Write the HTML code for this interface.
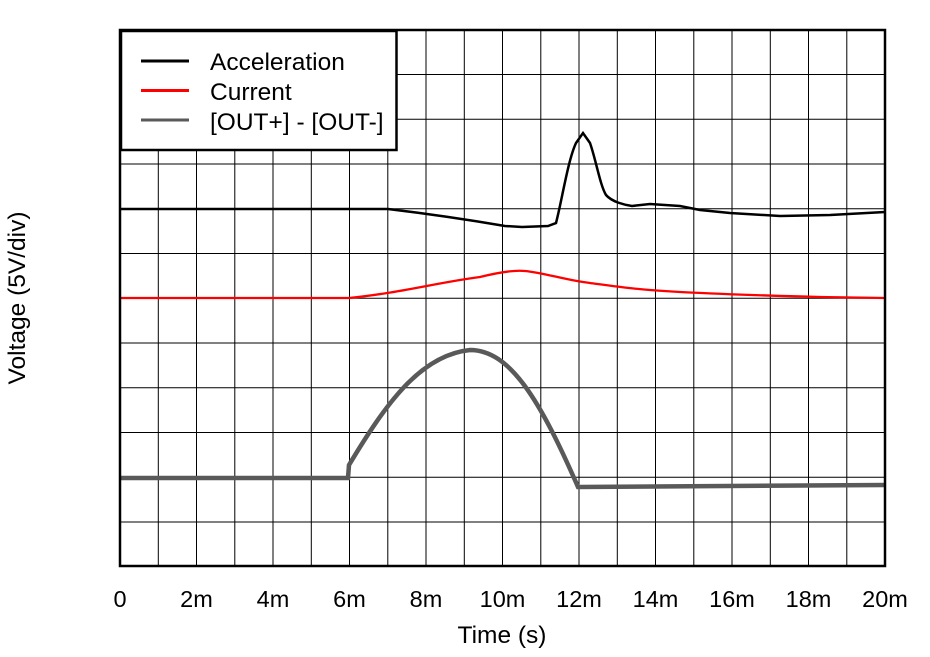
<!DOCTYPE html>
<html><head><meta charset="utf-8"><style>
body{margin:0;background:#fff;}
svg{display:block;font-family:"Liberation Sans",sans-serif;}
</style></head><body>
<svg width="930" height="657" viewBox="0 0 930 657">
<rect width="930" height="657" fill="#fff"/>
<g stroke="#000" stroke-width="1">
<line x1="158.3" y1="30" x2="158.3" y2="566"/><line x1="196.5" y1="30" x2="196.5" y2="566"/><line x1="234.8" y1="30" x2="234.8" y2="566"/><line x1="273" y1="30" x2="273" y2="566"/><line x1="311.3" y1="30" x2="311.3" y2="566"/><line x1="349.5" y1="30" x2="349.5" y2="566"/><line x1="387.8" y1="30" x2="387.8" y2="566"/><line x1="426" y1="30" x2="426" y2="566"/><line x1="464.3" y1="30" x2="464.3" y2="566"/><line x1="502.5" y1="30" x2="502.5" y2="566"/><line x1="540.8" y1="30" x2="540.8" y2="566"/><line x1="579" y1="30" x2="579" y2="566"/><line x1="617.3" y1="30" x2="617.3" y2="566"/><line x1="655.5" y1="30" x2="655.5" y2="566"/><line x1="693.8" y1="30" x2="693.8" y2="566"/><line x1="732" y1="30" x2="732" y2="566"/><line x1="770.3" y1="30" x2="770.3" y2="566"/><line x1="808.5" y1="30" x2="808.5" y2="566"/><line x1="846.8" y1="30" x2="846.8" y2="566"/>
<line x1="120" y1="74.5" x2="885" y2="74.5"/><line x1="120" y1="119.3" x2="885" y2="119.3"/><line x1="120" y1="164" x2="885" y2="164"/><line x1="120" y1="208.8" x2="885" y2="208.8"/><line x1="120" y1="253.5" x2="885" y2="253.5"/><line x1="120" y1="298.3" x2="885" y2="298.3"/><line x1="120" y1="343" x2="885" y2="343"/><line x1="120" y1="387.8" x2="885" y2="387.8"/><line x1="120" y1="432.5" x2="885" y2="432.5"/><line x1="120" y1="477.3" x2="885" y2="477.3"/><line x1="120" y1="522" x2="885" y2="522"/>
</g>
<path d="M120,478 L348,478 L349,465 C385,405 420,355 470,350 C510,350 540,400 578,487 L885,485" fill="none" stroke="#595959" stroke-width="4.5"/>
<path d="M120,298 L349,298 C400,293 440,282 480,277 C500,272 515,270 525,271 C545,273 565,280 590,283 C620,287 640,290 680,292 C720,294 780,296 820,297 L885,298" fill="none" stroke="#f00" stroke-width="2.3"/>
<path d="M120,209 L388,209 C430,214 470,220 505,226 L522,227 L548,226 L556,223 C562,200 568,160 576,143 L583,133 L590,143 C596,160 600,185 606,195 C612,202 625,205 632,206 L650,204 L680,206 L700,210 L730,213 L780,216 L830,215 L885,212" fill="none" stroke="#000" stroke-width="2.5"/>
<rect x="120" y="30" width="765" height="536" fill="none" stroke="#000" stroke-width="2.5"/>
<rect x="121" y="31" width="275.5" height="119" fill="#fff" stroke="#000" stroke-width="2.5"/>
<line x1="141" y1="61" x2="189" y2="61" stroke="#000" stroke-width="3"/>
<line x1="141" y1="90.5" x2="189" y2="90.5" stroke="#f00" stroke-width="3"/>
<line x1="141" y1="120" x2="189" y2="120" stroke="#595959" stroke-width="3"/>
<g font-size="24.5" fill="#000">
<text x="210" y="70">Acceleration</text>
<text x="210" y="100">Current</text>
<text x="210" y="130">[OUT+] - [OUT-]</text>
</g>
<g font-size="23.5" fill="#000" text-anchor="middle">
<text x="120" y="607">0</text><text x="196.5" y="607">2m</text><text x="273" y="607">4m</text><text x="349.5" y="607">6m</text><text x="426" y="607">8m</text><text x="502.5" y="607">10m</text><text x="579" y="607">12m</text><text x="655.5" y="607">14m</text><text x="732" y="607">16m</text><text x="808.5" y="607">18m</text><text x="885" y="607">20m</text>
</g>
<g font-size="24.5" fill="#000" text-anchor="middle">
<text x="502" y="643">Time (s)</text>
<text transform="translate(25,298) rotate(-90)">Voltage (5V/div)</text>
</g>
</svg>
</body></html>
